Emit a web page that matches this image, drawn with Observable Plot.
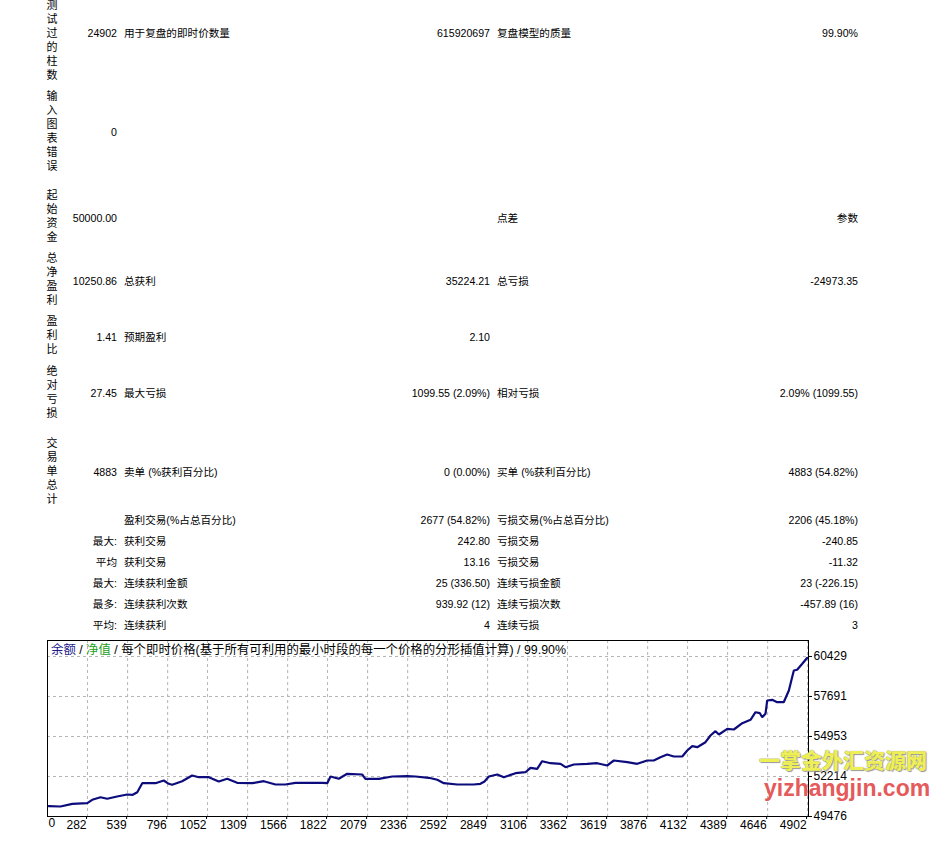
<!DOCTYPE html>
<html>
<head>
<meta charset="utf-8">
<script src="https://cdn.jsdelivr.net/npm/d3@7"></script>
<script src="https://cdn.jsdelivr.net/npm/@observablehq/plot@0.6"></script>
<style>
  html, body { margin: 0; padding: 0; background: #fff; }
  #page { position: relative; width: 946px; height: 841px; overflow: hidden;
          font-family: "Liberation Sans", "Noto Sans CJK SC", sans-serif; font-size: 10.6px; color: #000; }
  .t { position: absolute; white-space: nowrap; line-height: 14px; }
  .v { position: absolute; width: 12px; line-height: 14px; text-align: center; word-break: break-all; white-space: normal; font-size: 11px; }
  #legend { position: absolute; left: 51px; top: 642px; font-size: 12.4px; line-height: 16px; white-space: nowrap;
            font-family: "Liberation Sans", "Noto Sans CJK SC", sans-serif; }
  #chart { position: absolute; left: 0; top: 630px; }
  .wm1 { position: absolute; left: 759px; top: 744px; font-family: "Noto Sans CJK SC", sans-serif; font-weight: 900;
         font-size: 21px; letter-spacing: 0px; color: #eeee55; line-height: 30px;
         text-shadow: 0 0 1px #888, 1px 1px 1px #999; white-space: nowrap; }
  .wm2 { position: absolute; left: 764px; top: 773px; font-family: "Liberation Sans", sans-serif; font-weight: 700;
         font-size: 23px; color: #e55a5a; line-height: 30px; white-space: nowrap; }
</style>
</head>
<body>
<div id="page"></div>
<script>
// ---------- report table (text) ----------
const rowLabels = ["测试过的柱数", "输入图表错误", "起始资金", "总净盈利", "盈利比", "绝对亏损", "交易单总计"];
const rowValues = ["24902", "0", "50000.00", "10250.86", "1.41", "27.45", "4883"];
const col3Upper = ["用于复盘的即时价数量", "", "", "总获利", "预期盈利", "最大亏损", "卖单 (%获利百分比)"];
const col4Upper = ["615920697", "", "", "35224.21", "2.10", "1099.55 (2.09%)", "0 (0.00%)"];
const col5Upper = ["复盘模型的质量", "", "点差", "总亏损", "", "相对亏损", "买单 (%获利百分比)"];
const col6Upper = ["99.90%", "", "参数", "-24973.35", "", "2.09% (1099.55)", "4883 (54.82%)"];

const col2Lower = ["", "最大:", "平均", "最大:", "最多:", "平均:"];
const col3Lower = ["盈利交易(%占总百分比)", "获利交易", "获利交易", "连续获利金额", "连续获利次数", "连续获利"];
const col4Lower = ["2677 (54.82%)", "242.80", "13.16", "25 (336.50)", "939.92 (12)", "4"];
const col5Lower = ["亏损交易(%占总百分比)", "亏损交易", "亏损交易", "连续亏损金额", "连续亏损次数", "连续亏损"];
const col6Lower = ["2206 (45.18%)", "-240.85", "-11.32", "23 (-226.15)", "-457.89 (16)", "3"];

// ---------- chart data ----------
const legendParts = ["余额", "净值", "每个即时价格(基于所有可利用的最小时段的每一个价格的分形插值计算)", "99.90%"];
const xTicks = [0, 282, 539, 796, 1052, 1309, 1566, 1822, 2079, 2336, 2592, 2849, 3106, 3362, 3619, 3876, 4132, 4389, 4646, 4902];
const yTicks = [49476, 52214, 54953, 57691, 60429];
const tradeIdx = [33, 108, 184, 280, 312, 365, 408, 472, 536, 572, 601, 633, 654, 718, 771, 803, 825, 889, 953, 996,
  1060, 1124, 1178, 1242, 1339, 1413, 1488, 1552, 1616, 1702, 1788, 1820, 1841, 1894, 1948, 2044, 2065, 2151, 2237, 2333,
  2386, 2472, 2526, 2568, 2654, 2760, 2803, 2829, 2857, 2911, 2953, 3028, 3092, 3124, 3167, 3199, 3253, 3317, 3349, 3402,
  3488, 3552, 3616, 3659, 3745, 3809, 3873, 3915, 3958, 4001, 4044, 4098, 4130, 4162, 4194, 4247, 4279, 4311, 4333, 4387,
  4429, 4483, 4536, 4568, 4596, 4611, 4632, 4643, 4675, 4707, 4749, 4782, 4803, 4814, 4835, 4868, 4900];
const balance = [50181, 50161, 50345, 50386, 50619, 50797, 50688, 50845, 50982, 50961, 51139, 51755, 51755, 51755, 51940, 51714, 51646, 51892, 52282, 52166,
  52166, 51872, 52057, 51783, 51755, 51892, 51666, 51666, 51783, 51783, 51783, 51755, 52214, 52057, 52399, 52351, 52057, 52057, 52214, 52234,
  52214, 52125, 51988, 51755, 51666, 51666, 51714, 51872, 52214, 52351, 52166, 52440, 52508, 52809, 52741, 53261, 53124, 53083, 52851, 53035,
  53083, 53124, 52967, 53309, 53193, 53083, 53309, 53309, 53535, 53720, 53583, 53583, 53994, 54288, 54220, 54562, 55020, 55315, 55089, 55479,
  55431, 55862, 56095, 56615, 56547, 56273, 56506, 57416, 57464, 57300, 57300, 58101, 59011, 59470, 59518, 59928, 60339];

// ---------- layout (positions only) ----------
const page = document.getElementById("page");
function put(text, cls, style) {
  if (!text) return;
  const d = document.createElement("div");
  d.className = cls;
  d.textContent = text;
  Object.assign(d.style, style);
  page.appendChild(d);
}
const labelFirstCenter = [5, 96, 195, 258, 321, 371, 443];
const upperY = [33, 132, 218, 281, 337, 393, 472];
const lowerY = [520, 541, 562, 583, 604, 625];
const RIGHT2 = 946 - 117, LEFT3 = 124, RIGHT4 = 946 - 490, LEFT5 = 497, RIGHT6 = 946 - 858;

rowLabels.forEach((s, i) => {
  put(s, "v", { left: "46px", top: (labelFirstCenter[i] - 7) + "px" });
  const y = (upperY[i] - 7) + "px";
  put(rowValues[i], "t", { right: RIGHT2 + "px", top: y });
  put(col3Upper[i], "t", { left: LEFT3 + "px", top: y });
  put(col4Upper[i], "t", { right: RIGHT4 + "px", top: y });
  put(col5Upper[i], "t", { left: LEFT5 + "px", top: y });
  put(col6Upper[i], "t", { right: RIGHT6 + "px", top: y });
});
lowerY.forEach((yy, i) => {
  const y = (yy - 7) + "px";
  put(col2Lower[i], "t", { right: RIGHT2 + "px", top: y });
  put(col3Lower[i], "t", { left: LEFT3 + "px", top: y });
  put(col4Lower[i], "t", { right: RIGHT4 + "px", top: y });
  put(col5Lower[i], "t", { left: LEFT5 + "px", top: y });
  put(col6Lower[i], "t", { right: RIGHT6 + "px", top: y });
});

// ---------- chart ----------
const data = tradeIdx.map((t, i) => ({ t, v: balance[i] }));
const chart = Plot.plot({
  width: 946,
  height: 211,
  marginLeft: 47,
  marginRight: 138,
  marginTop: 10,
  marginBottom: 25,
  style: { fontFamily: "Liberation Sans, sans-serif", fontSize: "12px", background: "transparent", overflow: "visible" },
  x: { domain: [25, 4908] },
  y: { domain: [49476, 61523] },
  marks: [
    Plot.gridX(xTicks.slice(1), { stroke: "#b4b4b4", strokeOpacity: 1, strokeDasharray: "3,3" }),
    Plot.gridY(yTicks.slice(1), { stroke: "#b4b4b4", strokeOpacity: 1, strokeDasharray: "3,3" }),
    Plot.line(data, { x: "t", y: "v", stroke: "#0c0c7c", strokeWidth: 2.2, strokeLinejoin: "miter" }),
    Plot.frame({ stroke: "#000", strokeWidth: 1 }),
    Plot.axisX(xTicks.slice(1), { tickSize: 3, tickPadding: 1, textAnchor: "end", dx: -1, tickFormat: d => String(d), fill: "#000", stroke: "#000", label: null }),
    Plot.text([xTicks[0]], { x: d => d, frameAnchor: "bottom", dy: 10, dx: 5, textAnchor: "start", text: d => String(d), fill: "#000" }),
    Plot.axisY(yTicks, { anchor: "right", tickSize: 3, tickPadding: 2, tickFormat: d => String(d), fill: "#000", stroke: "#000", label: null })
  ]
});
const wrap = document.createElement("div");
wrap.id = "chart";
wrap.appendChild(chart);
page.appendChild(wrap);

// legend line inside the chart box
const lg = document.createElement("div");
lg.id = "legend";
const legendColors = ["#1a1a8c", "#22a022", "#000", "#000"];
legendParts.forEach((p, i) => {
  const s = document.createElement("span");
  s.textContent = p;
  s.style.color = legendColors[i];
  lg.appendChild(s);
  if (i < legendParts.length - 1) {
    const sep = document.createElement("span");
    sep.textContent = " / ";
    lg.appendChild(sep);
  }
});
page.appendChild(lg);

// watermark
put("一掌金外汇资源网", "wm1", {});
put("yizhangjin.com", "wm2", {});
</script>
</body>
</html>
